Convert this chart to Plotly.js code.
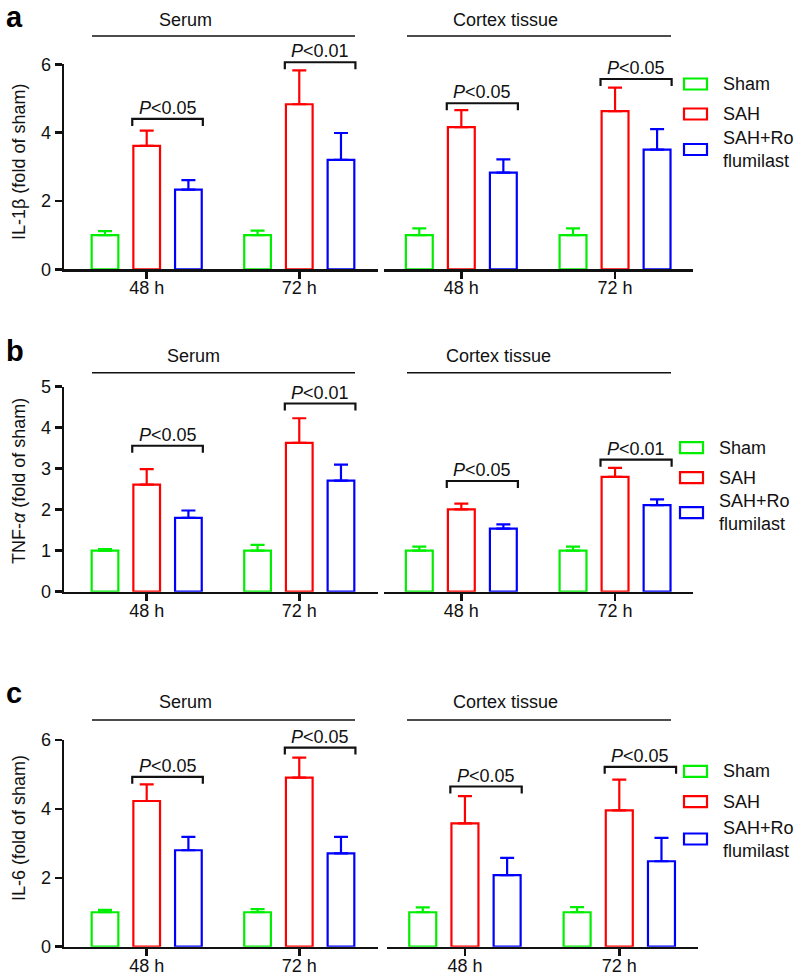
<!DOCTYPE html>
<html>
<head>
<meta charset="utf-8">
<script src="https://cdn.plot.ly/plotly-3.0.1.min.js"></script>
<style>html,body{margin:0;padding:0;background:#fff;}#chart{width:800px;height:979px;}</style>
</head>
<body>
<div id="chart"></div>
<script>
// ---------------- data ----------------
const groups = ["48 h", "72 h"];
const seriesNames = ["Sham", "SAH", "SAH+Roflumilast"];
const legendLabels = ["Sham", "SAH", "SAH+Ro<br>flumilast"];
const seriesColors = ["#00ee00", "#ff0000", "#0000ff"];
const panelTitles = ["Serum", "Cortex tissue"];
const rowLetters = ["a", "b", "c"];
const yTitles = ["IL-1β (fold of sham)", "TNF-<i>α</i> (fold of sham)", "IL-6 (fold of sham)"];

// Row a: IL-1β
const a_serum_sham = [1.00, 1.00],  a_serum_sham_err = [0.12, 0.13];
const a_serum_sah  = [3.61, 4.83],  a_serum_sah_err  = [0.45, 0.99];
const a_serum_rof  = [2.33, 3.20],  a_serum_rof_err  = [0.28, 0.79];
const a_cortex_sham = [1.00, 1.00], a_cortex_sham_err = [0.20, 0.20];
const a_cortex_sah  = [4.16, 4.63], a_cortex_sah_err  = [0.50, 0.69];
const a_cortex_rof  = [2.83, 3.50], a_cortex_rof_err  = [0.39, 0.60];
const a_serum_bracket = [4.40, 6.06],  a_serum_p = ["P<0.05", "P<0.01"];
const a_cortex_bracket = [4.86, 5.57], a_cortex_p = ["P<0.05", "P<0.05"];

// Row b: TNF-α
const b_serum_sham = [1.00, 1.00],  b_serum_sham_err = [0.04, 0.14];
const b_serum_sah  = [2.61, 3.63],  b_serum_sah_err  = [0.38, 0.60];
const b_serum_rof  = [1.80, 2.71],  b_serum_rof_err  = [0.18, 0.39];
const b_cortex_sham = [1.00, 1.00], b_cortex_sham_err = [0.10, 0.10];
const b_cortex_sah  = [2.01, 2.80], b_cortex_sah_err  = [0.14, 0.22];
const b_cortex_rof  = [1.54, 2.11], b_cortex_rof_err  = [0.10, 0.14];
const b_serum_bracket = [3.56, 4.59],  b_serum_p = ["P<0.05", "P<0.01"];
const b_cortex_bracket = [2.70, 3.22], b_cortex_p = ["P<0.05", "P<0.01"];

// Row c: IL-6
const c_serum_sham = [1.00, 1.00],  c_serum_sham_err = [0.07, 0.09];
const c_serum_sah  = [4.23, 4.91],  c_serum_sah_err  = [0.48, 0.58];
const c_serum_rof  = [2.80, 2.71],  c_serum_rof_err  = [0.39, 0.48];
const c_cortex_sham = [1.00, 1.00], c_cortex_sham_err = [0.14, 0.15];
const c_cortex_sah  = [3.58, 3.96], c_cortex_sah_err  = [0.79, 0.89];
const c_cortex_rof  = [2.08, 2.48], c_cortex_rof_err  = [0.50, 0.68];
const c_serum_bracket = [4.93, 5.78],  c_serum_p = ["P<0.05", "P<0.05"];
const c_cortex_bracket = [4.65, 5.22], c_cortex_p = ["P<0.05", "P<0.05"];

const yMax = [6, 5, 6];
const yDtick = [2, 1, 2];

// ---------------- layout geometry (px) ----------------
const W = 800, H = 979;
const FONT = "Liberation Sans, Arial, Helvetica, sans-serif";
const rowsGeom = [
  {yTop: 64.3, yBot: 269.3, headLineY: 36, headTextY: 20, serumCx: 185, cortexCx: 505.5,
   legC: [84, 114, 149.5], boxX: [683, 708], legTextX: 721, yTitleY: 162, letterBase: 27.5,
   left: {px: [64, 378], range: [-0.542, 1.516]}, right: {px: [384, 693], range: [-0.503, 1.507]}},
  {yTop: 386.7, yBot: 591.7, headLineY: 372.7, headTextY: 356, serumCx: 193.7, cortexCx: 498.8,
   legC: [447.7, 477.7, 512.7], boxX: [679, 704], legTextX: 717, yTitleY: 481, letterBase: 361.7,
   left: {px: [64, 378], range: [-0.542, 1.516]}, right: {px: [384, 693], range: [-0.503, 1.507]}},
  {yTop: 740, yBot: 946.7, headLineY: 720, headTextY: 701.7, serumCx: 185, cortexCx: 505.5,
   legC: [771.3, 801.7, 839], boxX: [683, 708], legTextX: 721, yTitleY: 828, letterBase: 703.3,
   left: {px: [64, 378], range: [-0.542, 1.516]}, right: {px: [387, 698], range: [-0.505, 1.51]}}
];
const headLineLeft = [92, 355], headLineRight = [407, 671];

const BARGAP = 0.18, BARGROUPGAP = 0.36;
const SLOT = (1 - BARGAP) / 3;

const rowData = [
  {serum: [[a_serum_sham, a_serum_sham_err], [a_serum_sah, a_serum_sah_err], [a_serum_rof, a_serum_rof_err]],
   cortex: [[a_cortex_sham, a_cortex_sham_err], [a_cortex_sah, a_cortex_sah_err], [a_cortex_rof, a_cortex_rof_err]],
   br: [a_serum_bracket, a_cortex_bracket], p: [a_serum_p, a_cortex_p]},
  {serum: [[b_serum_sham, b_serum_sham_err], [b_serum_sah, b_serum_sah_err], [b_serum_rof, b_serum_rof_err]],
   cortex: [[b_cortex_sham, b_cortex_sham_err], [b_cortex_sah, b_cortex_sah_err], [b_cortex_rof, b_cortex_rof_err]],
   br: [b_serum_bracket, b_cortex_bracket], p: [b_serum_p, b_cortex_p]},
  {serum: [[c_serum_sham, c_serum_sham_err], [c_serum_sah, c_serum_sah_err], [c_serum_rof, c_serum_rof_err]],
   cortex: [[c_cortex_sham, c_cortex_sham_err], [c_cortex_sah, c_cortex_sah_err], [c_cortex_rof, c_cortex_rof_err]],
   br: [c_serum_bracket, c_cortex_bracket], p: [c_serum_p, c_cortex_p]}
];

const px2x = p => p / W;
const py2y = p => 1 - p / H;

const traces = [];
const layout = {
  width: W, height: H,
  margin: {l: 0, r: 0, t: 0, b: 0},
  paper_bgcolor: "#fff", plot_bgcolor: "#fff",
  font: {family: FONT, size: 18, color: "#111"},
  showlegend: false,
  barmode: "group", bargap: BARGAP, bargroupgap: BARGROUPGAP,
  shapes: [], annotations: []
};

function axisName(i) { return i === 1 ? "" : String(i); }

rowsGeom.forEach((g, r) => {
  const yDom = [py2y(g.yBot), py2y(g.yTop)];
  ["left", "right"].forEach((side, s) => {
    const idx = r * 2 + s + 1;
    const xn = "x" + axisName(idx), yn = "y" + axisName(idx);
    const pg = g[side];
    layout["xaxis" + axisName(idx)] = {
      domain: [px2x(pg.px[0]), px2x(pg.px[1])], anchor: yn,
      type: "category", categoryorder: "array", categoryarray: groups,
      range: pg.range, fixedrange: true,
      showline: true, linecolor: "#111", linewidth: 2.5,
      ticks: "outside", ticklen: 7, tickwidth: 2.5, tickcolor: "#111",
      ticklabelstandoff: -6,
      showgrid: false, zeroline: false,
      tickfont: {family: FONT, size: 18, color: "#111"}
    };
    layout["yaxis" + axisName(idx)] = {
      domain: yDom, anchor: xn, range: [0, yMax[r]], fixedrange: true,
      dtick: yDtick[r], tick0: 0,
      showline: s === 0, linecolor: "#111", linewidth: 2.5,
      ticks: s === 0 ? "outside" : "", ticklen: 7, tickwidth: 2.5, tickcolor: "#111",
      showticklabels: s === 0, showgrid: false, zeroline: false,
      tickfont: {family: FONT, size: 18, color: "#111"}
    };
    const set = s === 0 ? rowData[r].serum : rowData[r].cortex;
    set.forEach((pair, k) => {
      traces.push({
        type: "bar", name: seriesNames[k], x: groups, y: pair[0],
        xaxis: xn, yaxis: yn, cliponaxis: false,
        marker: {color: "#ffffff", line: {color: seriesColors[k], width: 2.2}},
        error_y: {type: "data", symmetric: false, array: pair[1], arrayminus: pair[1].map(() => 0),
                  color: seriesColors[k], thickness: 2.2, width: 7},
        hoverinfo: "skip"
      });
    });
    // significance brackets between SAH and SAH+Roflumilast
    const toPX = v => px2x(pg.px[0] + (v - pg.range[0]) / (pg.range[1] - pg.range[0]) * (pg.px[1] - pg.px[0]));
    const toPY = v => py2y(g.yBot - v / yMax[r] * (g.yBot - g.yTop));
    const unitPx = (pg.px[1] - pg.px[0]) / (pg.range[1] - pg.range[0]);
    const hw = SLOT * (1 - BARGROUPGAP) / 2 + 1.1 / unitPx;
    const legPx = 7;
    rowData[r].br[s].forEach((bv, gi) => {
      const x0 = toPX(gi - hw), x1 = toPX(gi + SLOT + hw);
      const yb = toPY(bv), yl = yb - legPx / H;
      layout.shapes.push({type: "path", xref: "paper", yref: "paper",
        path: `M${x0},${yl} L${x0},${yb} L${x1},${yb} L${x1},${yl}`,
        line: {color: "#111", width: 2.2}});
      const label = rowData[r].p[s][gi].replace(/^P/, "<i>P</i>").replace("<0", "&lt;0");
      layout.annotations.push({xref: "paper", yref: "paper", x: (x0 + x1) / 2, y: yb + 11 / H,
        text: label, showarrow: false, xanchor: "center", yanchor: "middle",
        font: {family: FONT, size: 18, color: "#111"}});
    });
  });
  // header lines and texts
  layout.shapes.push({type: "line", xref: "paper", yref: "paper",
    x0: px2x(headLineLeft[0]), x1: px2x(headLineLeft[1]), y0: py2y(g.headLineY), y1: py2y(g.headLineY),
    line: {color: "#111", width: 1.6}});
  layout.shapes.push({type: "line", xref: "paper", yref: "paper",
    x0: px2x(headLineRight[0]), x1: px2x(headLineRight[1]), y0: py2y(g.headLineY), y1: py2y(g.headLineY),
    line: {color: "#111", width: 1.6}});
  layout.annotations.push({xref: "paper", yref: "paper", x: px2x(g.serumCx), y: py2y(g.headTextY),
    text: panelTitles[0], showarrow: false, xanchor: "center", yanchor: "middle",
    font: {family: FONT, size: 18, color: "#111"}});
  layout.annotations.push({xref: "paper", yref: "paper", x: px2x(g.cortexCx), y: py2y(g.headTextY),
    text: panelTitles[1], showarrow: false, xanchor: "center", yanchor: "middle",
    font: {family: FONT, size: 18, color: "#111"}});
  // y title
  layout.annotations.push({xref: "paper", yref: "paper", x: px2x(19), y: py2y(g.yTitleY),
    text: yTitles[r], showarrow: false, textangle: -90, xanchor: "center", yanchor: "middle",
    font: {family: FONT, size: 18, color: "#111"}});
  // row letter
  layout.annotations.push({xref: "paper", yref: "paper", x: px2x(4), y: py2y(g.letterBase + 7.5),
    text: "<b>" + rowLetters[r] + "</b>", showarrow: false, xanchor: "left", yanchor: "bottom",
    font: {family: FONT, size: 29, color: "#000"}});
  // manual legend
  legendLabels.forEach((lab, k) => {
    const cy = g.legC[k];
    layout.shapes.push({type: "rect", xref: "paper", yref: "paper",
      x0: px2x(g.boxX[0] + 1), x1: px2x(g.boxX[1] - 1), y0: py2y(cy - 5.5), y1: py2y(cy + 5.5),
      fillcolor: "#fff", line: {color: seriesColors[k], width: 2.2}});
    layout.annotations.push({xref: "paper", yref: "paper", x: px2x(g.legTextX), y: py2y(cy),
      text: lab, showarrow: false, xanchor: "left", yanchor: "middle", align: "left",
      font: {family: FONT, size: 18, color: "#111"}});
  });
});

Plotly.newPlot("chart", traces, layout, {displayModeBar: false, staticPlot: true});
</script>
</body>
</html>
